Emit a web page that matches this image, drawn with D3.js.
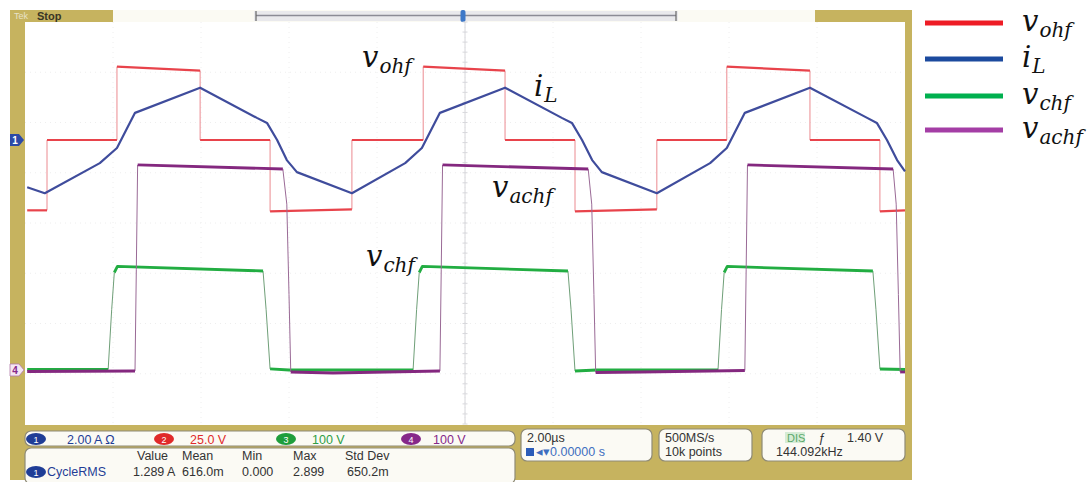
<!DOCTYPE html>
<html><head><meta charset="utf-8">
<script src="https://cdn.jsdelivr.net/npm/d3@7"></script>
<style>body{margin:0;background:#fff}svg{display:block}</style>
</head><body>
<svg id="c" width="1091" height="482"></svg>
<script>
// ---------- data (time in µs across the 20 µs record) ----------
const vohfTime  = [0.05,0.50,0.50,2.09,2.09,3.98,3.98,5.57,5.57,7.43,7.43,9.05,9.05,10.91,10.91,12.50,12.50,14.36,14.36,15.95,15.95,17.84,17.84,19.43,19.43,20.0];
const vohfVolts = [-35,-35,0,0,36.5,34.5,0,0,-35.5,-34.5,0,0,36.5,34.5,0,0,-35.5,-34.5,0,0,36.5,34.5,0,0,-35.5,-35];

const iLTime = [0.05,0.45,1.70,2.09,2.50,3.98,5.27,5.50,5.73,5.95,6.18,7.43,8.64,9.02,9.43,10.91,12.20,12.43,12.66,12.89,13.11,14.36,15.57,15.95,16.36,17.84,19.14,19.36,19.59,19.82,20.0];
const iLAmps = [-1.88,-2.12,-0.92,-0.32,1.08,2.08,0.88,0.68,0.0,-0.80,-1.28,-2.12,-0.92,-0.32,1.08,2.08,0.88,0.68,0.0,-0.80,-1.28,-2.12,-0.92,-0.32,1.08,2.08,0.88,0.68,0.0,-0.80,-1.25];

const vchfTime  = [0.05,1.89,1.97,2.03,2.10,5.41,5.48,5.57,6.0,8.82,8.90,8.96,9.03,12.34,12.41,12.50,13.0,15.75,15.83,15.89,15.96,19.27,19.34,19.43,20.0];
const vchfVolts = [1,1,120,194,206,197,120,2,0,0,120,194,206,197,120,-2,0,0,120,194,206,197,120,2,1];

const vachfTime  = [0.05,2.50,2.53,2.56,5.86,5.95,6.00,6.04,7.0,9.43,9.46,9.49,12.80,12.88,12.93,12.97,14.0,16.36,16.39,16.42,19.73,19.80,19.85,19.89,20.0];
const vachfVolts = [-3,-2,200,408,400,330,150,-4,-6,-2,200,408,400,330,150,-5,-4,-1,200,408,400,330,150,-4,-4];

const legendBase = ["v","i","v","v"];
const legendSub  = ["ohf","L","chf","achf"];
const channelNums = ["1","2","3","4"];
const channelScales = ["2.00 A \u03A9","25.0 V","100 V","100 V"];
const measHeaders = ["Value","Mean","Min","Max","Std Dev"];
const measValues  = ["1.289 A","616.0m","0.000","2.899","650.2m"];
const measName = "CycleRMS";

// ---------- layout / styles ----------
const svg = d3.select("#c");
const olive = "#c6b35f";
const traceCol = ["#e8434b","#3f4c9c","#22ad42","#84287f"];
const edgeCol  = ["#eb8a90","#3f4c9c","#6f9f78","#9a6a96"];
const legendCol = ["#ee1c25","#1c4a9e","#00b04f","#a43ea5"];
const badgeCol = ["#1f3d96","#e02a2a","#1f9e3c","#86288a"];
const scaleTextCol = ["#1f3d96","#e02a2a","#2f9e44","#86288a"];

const L = 25, R = 905, T = 22, B = 424;
const x = d3.scaleLinear().domain([0,20]).range([L,R]);
const yDiv = d3.scaleLinear().domain([-4,4]).range([B,T]);
function chScale(vpd, off){ return d3.scaleLinear().domain([(-4-off)*vpd,(4-off)*vpd]).range([B,T]); }
const yI = chScale(2, 1.652), yR = chScale(25, 1.652), yG = chScale(100, -2.925), yP = chScale(100, -2.925);

// scope bezel
svg.append("rect").attr("x",10).attr("y",10).attr("width",902).attr("height",470).attr("fill",olive);
svg.append("rect").attr("x",L).attr("y",T).attr("width",R-L).attr("height",B-T+1).attr("fill","#ffffff");

// top bar
svg.append("rect").attr("x",113).attr("y",10).attr("width",702).attr("height",12).attr("fill","#fbfaf3");
svg.append("rect").attr("x",254).attr("y",11).attr("width",424).attr("height",10).attr("fill","#e9e9ec");
svg.append("line").attr("x1",256).attr("x2",676).attr("y1",15.5).attr("y2",15.5).attr("stroke","#8b8b95").attr("stroke-width",1.3);
svg.append("line").attr("x1",256).attr("x2",256).attr("y1",11).attr("y2",21).attr("stroke","#666").attr("stroke-width",1.2);
svg.append("line").attr("x1",676).attr("x2",676).attr("y1",11).attr("y2",21).attr("stroke","#666").attr("stroke-width",1.2);
svg.append("rect").attr("x",460.5).attr("y",10).attr("width",5).attr("height",12).attr("rx",2).attr("fill","#3d78c8");
svg.append("text").attr("x",14).attr("y",19).attr("font-family","Liberation Sans").attr("font-size",9).attr("fill","#e8e2c8").text("Tek");
svg.append("text").attr("x",37).attr("y",19.5).attr("font-family","Liberation Sans").attr("font-weight","bold").attr("font-size",11).attr("fill","#3a3626").text("Stop");

// graticule (very faint)
const g = svg.append("g");
for(let i=1;i<10;i++){ g.append("line").attr("x1",L+i*88).attr("x2",L+i*88).attr("y1",T).attr("y2",B).attr("stroke","#eeeeee").attr("stroke-dasharray","1,4"); }
for(let j=1;j<8;j++){ g.append("line").attr("x1",L).attr("x2",R).attr("y1",yDiv(j-4)).attr("y2",yDiv(j-4)).attr("stroke","#eeeeee").attr("stroke-dasharray","1,4"); }
g.append("line").attr("x1",x(10)).attr("x2",x(10)).attr("y1",T).attr("y2",B).attr("stroke","#d6d6da").attr("stroke-width",1);
for(let k=-20;k<=20;k++){ g.append("line").attr("x1",x(10)-2.5).attr("x2",x(10)+2.5).attr("y1",yDiv(k/5)).attr("y2",yDiv(k/5)).attr("stroke","#d8d8dc"); }

// traces: flat/slow segments thick, fast edges thin and faint (as on a DSO)
const seg = (ys)=>d3.line().x(d=>x(d[0])).y(d=>ys(d[1]));
function trace(t,v,ys,col,ecol,w){
  const pts = t.map((tt,i)=>[tt,v[i]]);
  const gg = svg.append("g");
  const fast = [], slow = [];
  for(let i=0;i<pts.length-1;i++){
    const dx = Math.abs(x(pts[i+1][0])-x(pts[i][0]));
    const dy = Math.abs(ys(pts[i+1][1])-ys(pts[i][1]));
    (dy > 3*dx + 6 ? fast : slow).push([pts[i],pts[i+1]]);
  }
  fast.forEach(s=>gg.append("path").datum(s).attr("d",seg(ys)).attr("fill","none").attr("stroke",ecol).attr("stroke-width",1));
  let run = [];
  const flush = ()=>{ if(run.length>1) gg.append("path").datum(run).attr("d",seg(ys)).attr("fill","none").attr("stroke",col).attr("stroke-width",w).attr("stroke-linejoin","round"); run=[]; };
  slow.forEach(s=>{ if(run.length && run[run.length-1]===s[0]) run.push(s[1]); else { flush(); run=[s[0],s[1]]; } });
  flush();
}
trace(vohfTime,vohfVolts,yR,traceCol[0],edgeCol[0],2.2);
trace(vchfTime,vchfVolts,yG,traceCol[2],edgeCol[2],2.8);
trace(vachfTime,vachfVolts,yP,traceCol[3],edgeCol[3],2.8);
trace(iLTime,iLAmps,yI,traceCol[1],edgeCol[1],2.2);

// channel markers
svg.append("path").attr("d",`M10,${yI(0)-6} L19,${yI(0)-6} L24,${yI(0)} L19,${yI(0)+6} L10,${yI(0)+6} Z`).attr("fill","#2c4aa6");
svg.append("text").attr("x",15).attr("y",yI(0)+4).attr("font-family","Liberation Sans").attr("font-size",10).attr("font-weight","bold").attr("fill","#fff").attr("text-anchor","middle").text("1");
svg.append("path").attr("d",`M10,${yP(0)-6} L19,${yP(0)-6} L24,${yP(0)} L19,${yP(0)+6} L10,${yP(0)+6} Z`).attr("fill","#f4e6f2").attr("stroke","#b07aa8").attr("stroke-width",0.8);
svg.append("text").attr("x",15).attr("y",yP(0)+4).attr("font-family","Liberation Sans").attr("font-size",10).attr("font-weight","bold").attr("fill","#86288a").attr("text-anchor","middle").text("4");

// math-style labels
function mathLabel(px,py,base,sub,bs,ss){
  const t = svg.append("text").attr("x",px).attr("y",py).attr("font-family","DejaVu Serif").attr("font-style","italic").attr("fill","#111");
  t.append("tspan").attr("font-size",bs).text(base);
  t.append("tspan").attr("font-size",ss).attr("dy",ss*0.3).attr("dx",1).text(sub);
}
mathLabel(362,67,legendBase[0],legendSub[0],29,20);
mathLabel(534,96,legendBase[1],legendSub[1],29,20);
mathLabel(492,197,legendBase[3],legendSub[3],29,20);
mathLabel(366,266,legendBase[2],legendSub[2],29,20);

// legend
const ly = [23,59,96,130];
legendBase.forEach((b,i)=>{
  svg.append("line").attr("x1",925).attr("x2",1003).attr("y1",ly[i]).attr("y2",ly[i]).attr("stroke",legendCol[i]).attr("stroke-width",5);
  mathLabel(1022,ly[i]+8,b,legendSub[i],29,20);
});

// bottom info panels
const ft = "Liberation Sans";
function box(bx,by,bw,bh){ svg.append("rect").attr("x",bx).attr("y",by).attr("width",bw).attr("height",bh).attr("rx",6).attr("fill","#fbfaf4").attr("stroke","#8e8a76").attr("stroke-width",1.2); }
box(25,431,490,15);
box(25,448,490,36);
box(521,429,131,32);
box(659,429,93,32);
box(762,429,143,32);
const badgeX = [32,160,282,407], scaleX=[67,190,312,433];
channelNums.forEach((n,i)=>{
  svg.append("ellipse").attr("cx",badgeX[i]+4).attr("cy",439).attr("rx",10).attr("ry",6).attr("fill",badgeCol[i]);
  svg.append("text").attr("x",badgeX[i]+4).attr("y",442.5).attr("text-anchor","middle").attr("font-family",ft).attr("font-size",9).attr("fill","#fff").text(n);
  svg.append("text").attr("x",scaleX[i]).attr("y",443.5).attr("font-family",ft).attr("font-size",12.5).attr("fill",scaleTextCol[i]).text(channelScales[i]);
});
const colX = [137,182,242,293,345];
measHeaders.forEach((h,i)=>svg.append("text").attr("x",colX[i]).attr("y",459.5).attr("font-family",ft).attr("font-size",12.5).attr("fill","#333").text(h));
const valX = [133,182,242,293,347];
measValues.forEach((v,i)=>svg.append("text").attr("x",valX[i]).attr("y",476).attr("font-family",ft).attr("font-size",12.5).attr("fill","#333").text(v));
svg.append("ellipse").attr("cx",36).attr("cy",472).attr("rx",10).attr("ry",6).attr("fill",badgeCol[0]);
svg.append("text").attr("x",36).attr("y",475.5).attr("text-anchor","middle").attr("font-family",ft).attr("font-size",9).attr("fill","#fff").text("1");
svg.append("text").attr("x",47).attr("y",476).attr("font-family",ft).attr("font-size",12.5).attr("fill","#1f3d96").text(measName);

svg.append("text").attr("x",527).attr("y",442).attr("font-family",ft).attr("font-size",12.5).attr("fill","#333").text("2.00\u00B5s");
svg.append("rect").attr("x",526).attr("y",448).attr("width",8).attr("height",8).attr("fill","#2c5cb8");
svg.append("text").attr("x",536).attr("y",456).attr("font-family",ft).attr("font-size",12.5).attr("fill","#3f6fc0").text("\u25C2\u25BE0.00000 s");
svg.append("text").attr("x",665).attr("y",442).attr("font-family",ft).attr("font-size",12.5).attr("fill","#333").text("500MS/s");
svg.append("text").attr("x",665).attr("y",456).attr("font-family",ft).attr("font-size",12.5).attr("fill","#333").text("10k points");
svg.append("rect").attr("x",785).attr("y",432).attr("width",20).attr("height",11).attr("fill","#d6ecd6");
svg.append("text").attr("x",787).attr("y",442).attr("font-family",ft).attr("font-size",11).attr("fill","#5aa86a").text("DIS");
svg.append("text").attr("x",818).attr("y",442).attr("font-family",ft).attr("font-size",12.5).attr("font-style","italic").attr("fill","#333").text("\u0192");
svg.append("text").attr("x",847).attr("y",442).attr("font-family",ft).attr("font-size",12.5).attr("fill","#333").text("1.40 V");
svg.append("text").attr("x",776).attr("y",456).attr("font-family",ft).attr("font-size",12.5).attr("fill","#333").text("144.092kHz");
</script>
</body></html>
